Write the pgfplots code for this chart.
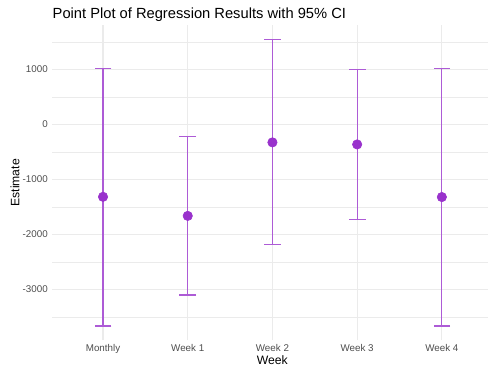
\documentclass[border=0pt]{standalone}
\usepackage{fontspec}
\setmainfont{Liberation Sans}
\usepackage{pgfplots}
\pgfplotsset{compat=1.18}
\usepackage{pgfplotstable}
\definecolor{ptcol}{RGB}{153,50,204}
\definecolor{ebcol}{RGB}{173,91,214}
\definecolor{gridcol}{RGB}{235,235,235}
\definecolor{tickcol}{RGB}{77,77,77}

\pgfplotstableread{
x y lo hi
1 -1316 -3662 1020
2 -1662 -3098 -225
3 -327 -2189 1538
4 -364 -1727 990
5 -1320 -3662 1020
}\datatable

\begin{document}
\begin{tikzpicture}
\path[use as bounding box] (0,0) rectangle (488bp,369bp);
\begin{axis}[
  at={(52.2bp,28.7bp)}, anchor=south west,
  scale only axis, width=436bp, height=314.9bp,
  xmin=0.4, xmax=5.547, ymin=-3922, ymax=1798,
  axis line style={draw=none},
  major tick length=0pt, minor tick length=0pt,
  xtick={1,2,3,4,5},
  xticklabels={Monthly,Week 1,Week 2,Week 3,Week 4},
  ytick={-3000,-2000,-1000,0,1000},
  yticklabels={-3000,-2000,-1000,0,1000},
  minor ytick={-3500,-2500,-1500,-500,500,1500},
  xmajorgrids, ymajorgrids, yminorgrids,
  major grid style={draw=gridcol, line width=1.19bp},
  minor grid style={draw=gridcol, line width=0.6bp},
  ticklabel style={font=\fontsize{9.8bp}{11bp}\selectfont, text=tickcol},
  yticklabel style={anchor=east, inner sep=0pt, xshift=-4.2bp},
  xticklabel style={anchor=north, inner sep=0pt, yshift=-3.6bp},
  xlabel={Week},
  ylabel={Estimate},
  label style={font=\fontsize{12.2bp}{14bp}\selectfont, text=black},
  xlabel style={at={(axis description cs:0.5048,0)}, anchor=base, yshift=-24.7bp, inner sep=0pt},
  ylabel style={at={(axis description cs:-0.0853,0.5)}, anchor=center, inner sep=0pt, rotate=0},
  every axis plot/.append style={forget plot},
]
\pgfplotsset{ebstyle/.style={draw=ebcol, line width=1.19bp, mark=-, mark size=8.35bp, mark options={solid, draw=ebcol, line width=1.19bp}}}
\addplot[ebstyle] coordinates {(1,-3662) (1,1020)};
\addplot[ebstyle] coordinates {(2,-3098) (2,-225)};
\addplot[ebstyle] coordinates {(3,-2189) (3,1538)};
\addplot[ebstyle] coordinates {(4,-1727) (4,990)};
\addplot[ebstyle] coordinates {(5,-3662) (5,1020)};
\addplot[ptcol, only marks, mark=*, mark size=4.7bp, mark options={solid, fill=ptcol, draw=ptcol, line width=0.6bp}]
  table[x=x, y=y] {\datatable};
\end{axis}
\node[anchor=base west, inner sep=0pt, font=\fontsize{14.7bp}{17bp}\selectfont] at (52.5bp,350bp) {Point Plot of Regression Results with 95\% CI};
\end{tikzpicture}
\end{document}
